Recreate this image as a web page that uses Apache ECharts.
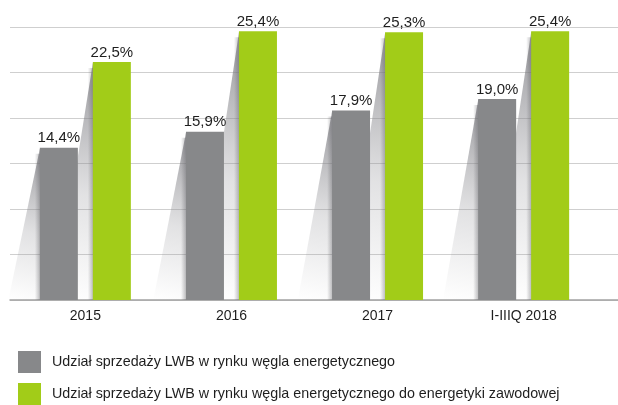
<!DOCTYPE html>
<html>
<head>
<meta charset="utf-8">
<script src="https://cdn.jsdelivr.net/npm/echarts@6/dist/echarts.min.js"></script>
<style>html,body{margin:0;padding:0;background:#fff}#c{width:618px;height:405px}</style>
</head>
<body>
<div id="c"></div>
<script>
const categories = ['2015', '2016', '2017', 'I-IIIQ 2018'];
const seriesNames = [
  'Udział sprzedaży LWB w rynku węgla energetycznego',
  'Udział sprzedaży LWB w rynku węgla energetycznego do energetyki zawodowej'
];
const grayValues = [14.4, 15.9, 17.9, 19.0];
const greenValues = [22.5, 25.4, 25.3, 25.4];
const yMax = 25.8;
const yInterval = 4.3;

const GRAY = '#87888a';
const GREEN = '#a2cc18';
const BAR_W = 38;
const BAR_GAP = 15;
const HALF = (BAR_W + BAR_GAP) / 2;
const FONT = "'Liberation Sans', Arial, sans-serif";

function fmt(v) { return v.toFixed(1).replace('.', ',') + '%'; }

function shadowRenderer(offset) {
  return function (params, api) {
    const idx = api.value(0);
    const top = api.coord([idx, api.value(1)]);
    const base = api.coord([idx, 0]);
    const left = top[0] + offset - BAR_W / 2;
    const h = base[1] - top[1];
    const d = 20 + 0.075 * h;
    return {
      type: 'group',
      children: [
        {
          type: 'polygon',
          shape: { points: [[left, top[1] + 1], [left + 2, top[1] + 1], [left + 2, base[1]], [left - d, base[1]]] },
          style: {
            fill: new echarts.graphic.LinearGradient(0, 1, 1, 0.1, [
              { offset: 0, color: 'rgba(150,150,155,0)' },
              { offset: 0.5, color: 'rgba(150,150,155,0.28)' },
              { offset: 1, color: 'rgba(125,125,130,0.7)' }
            ])
          }
        },
        {
          type: 'rect',
          shape: { x: left - 5, y: top[1] + 6, width: 6, height: h - 6 },
          style: {
            fill: new echarts.graphic.LinearGradient(0, 0, 1, 0, [
              { offset: 0, color: 'rgba(90,90,95,0)' },
              { offset: 1, color: 'rgba(90,90,95,0.45)' }
            ])
          }
        }
      ]
    };
  };
}

const legendBase = {
  orient: 'vertical', left: 18, padding: 0, itemWidth: 23, itemHeight: 22,
  icon: 'rect',
  textStyle: { color: '#1e1e1e', fontSize: 14.3, fontFamily: FONT, padding: [0, 0, 0, 6] }
};

const chart = echarts.init(document.getElementById('c'), null, { renderer: 'canvas' });
chart.setOption({
  animation: false,
  backgroundColor: '#fff',
  grid: [
    { left: 12.3, right: 21.3, top: 27, bottom: 105 },
    { left: 10, right: 0, top: 27, bottom: 105 }
  ],
  xAxis: [
    {
      type: 'category', gridIndex: 0, data: categories,
      axisLine: { show: false }, axisTick: { show: false },
      axisLabel: { color: '#1e1e1e', fontSize: 14, fontFamily: FONT, margin: 9 }
    },
    {
      type: 'value', gridIndex: 1, min: 0, max: 1,
      axisLine: { show: true, onZero: false, lineStyle: { color: '#a3a3a3', width: 1.5 } },
      axisTick: { show: false }, axisLabel: { show: false }, splitLine: { show: false }
    }
  ],
  yAxis: [
    { type: 'value', gridIndex: 0, min: 0, max: yMax, interval: yInterval, show: false, splitLine: { show: false } },
    {
      type: 'value', gridIndex: 1, min: 0, max: yMax, interval: yInterval,
      axisLine: { show: false }, axisTick: { show: false }, axisLabel: { show: false },
      splitLine: { show: true, lineStyle: { color: '#cfcfcf', width: 1.2 } }
    }
  ],
  legend: [
    Object.assign({}, legendBase, { top: 351, data: [seriesNames[0]] }),
    Object.assign({}, legendBase, { top: 383, data: [seriesNames[1]] })
  ],
  series: [
    {
      type: 'custom', xAxisIndex: 0, yAxisIndex: 0, z: 1, silent: true,
      renderItem: shadowRenderer(HALF),
      data: categories.map((c, i) => [i, greenValues[i]])
    },
    {
      type: 'custom', xAxisIndex: 0, yAxisIndex: 0, z: 1, silent: true,
      renderItem: shadowRenderer(-HALF),
      data: categories.map((c, i) => [i, grayValues[i]])
    },
    {
      name: seriesNames[0], type: 'bar', xAxisIndex: 0, yAxisIndex: 0, z: 3,
      barWidth: BAR_W, barGap: (BAR_GAP / BAR_W * 100) + '%',
      itemStyle: { color: GRAY }, data: grayValues,
      label: { show: true, position: 'top', distance: 2, color: '#1e1e1e', fontSize: 15, fontFamily: FONT, formatter: p => fmt(p.value) }
    },
    {
      name: seriesNames[1], type: 'bar', xAxisIndex: 0, yAxisIndex: 0, z: 3,
      barWidth: BAR_W,
      itemStyle: { color: GREEN }, data: greenValues,
      label: { show: true, position: 'top', distance: 2, color: '#1e1e1e', fontSize: 15, fontFamily: FONT, formatter: p => fmt(p.value) }
    }
  ]
});
</script>
</body>
</html>
